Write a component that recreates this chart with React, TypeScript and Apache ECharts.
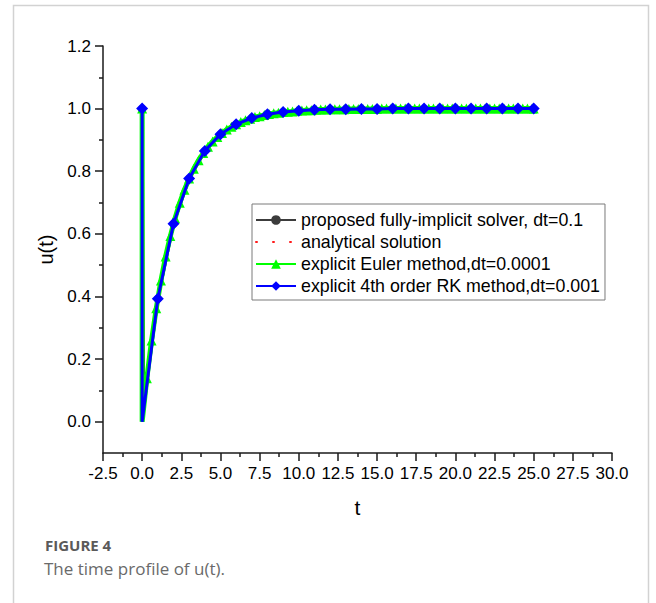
import React, { useEffect, useRef } from "react";
import * as echarts from "echarts";

// ---- Data ----
// proposed fully-implicit solver, dt=0.1
const implicitT = [0, 0.1, 1, 2, 3, 4, 5, 6, 7, 8, 9, 10, 12, 15, 20, 25];
const implicitU = [1, 0.049, 0.393, 0.632, 0.777, 0.865, 0.918, 0.95, 0.97, 0.982, 0.989, 0.993, 0.998, 0.999, 1.0, 1.0];

// analytical solution
const analyticT = [0, 0, 0.5, 1, 1.5, 2, 2.5, 3, 4, 5, 6, 7, 8, 10, 12, 15, 20, 25];
const analyticU = [1, 0, 0.221, 0.393, 0.528, 0.632, 0.713, 0.777, 0.865, 0.918, 0.95, 0.97, 0.982, 0.993, 0.998, 0.999, 1.0, 1.0];

// explicit Euler method, dt=0.0001 (marker positions)
const eulerT = [
  0, 0, 0.3, 0.6, 0.9, 1.2, 1.5, 1.8, 2.1, 2.4, 2.7, 3.0, 3.3, 3.6, 3.9, 4.2, 4.5, 4.8, 5.1, 5.4, 5.7,
  6.0, 6.3, 6.6, 6.9, 7.2, 7.5, 7.8, 8.1, 8.4, 8.7, 9.0, 9.3, 9.6, 9.9, 10.2, 10.5, 10.8, 11.1, 11.4,
  11.7, 12.0, 12.3, 12.6, 12.9, 13.2, 13.5, 13.8, 14.1, 14.4, 14.7, 15.0, 15.3, 15.6, 15.9, 16.2, 16.5,
  16.8, 17.1, 17.4, 17.7, 18.0, 18.3, 18.6, 18.9, 19.2, 19.5, 19.8, 20.1, 20.4, 20.7, 21.0, 21.3, 21.6,
  21.9, 22.2, 22.5, 22.8, 23.1, 23.4, 23.7, 24.0, 24.3, 24.6, 24.9, 25.0,
];
const eulerU = [
  1, 0, 0.139, 0.259, 0.362, 0.451, 0.528, 0.593, 0.65, 0.699, 0.741, 0.777, 0.808, 0.835, 0.858, 0.878,
  0.895, 0.909, 0.922, 0.933, 0.942, 0.95, 0.957, 0.963, 0.968, 0.973, 0.976, 0.98, 0.983, 0.985, 0.987,
  0.989, 0.99, 0.991, 0.993, 0.994, 0.995, 0.995, 0.996, 0.997, 0.997, 0.998, 0.998, 0.998, 0.998, 0.999,
  0.999, 0.999, 0.999, 0.999, 0.999, 0.999, 1.0, 1.0, 1.0, 1.0, 1.0, 1.0, 1.0, 1.0, 1.0, 1.0, 1.0, 1.0,
  1.0, 1.0, 1.0, 1.0, 1.0, 1.0, 1.0, 1.0, 1.0, 1.0, 1.0, 1.0, 1.0, 1.0, 1.0, 1.0, 1.0, 1.0, 1.0, 1.0,
  1.0, 1.0,
];

// explicit 4th order RK method, dt=0.001 (marker positions)
const rkT = [0, 0, 1, 2, 3, 4, 5, 6, 7, 8, 9, 10, 11, 12, 13, 14, 15, 16, 17, 18, 19, 20, 21, 22, 23, 24, 25];
const rkU = [
  1, 0, 0.393, 0.632, 0.777, 0.865, 0.918, 0.95, 0.97, 0.982, 0.989, 0.993, 0.996, 0.998, 0.998, 0.999,
  0.999, 1.0, 1.0, 1.0, 1.0, 1.0, 1.0, 1.0, 1.0, 1.0, 1.0,
];

const seriesNames = [
  "proposed fully-implicit solver, dt=0.1",
  "analytical solution",
  "explicit Euler method,dt=0.0001",
  "explicit 4th order RK method,dt=0.001",
];

const yMajorTicks = [0, 0.2, 0.4, 0.6, 0.8, 1.0, 1.2];
const yMinorTicks = [0.1, 0.3, 0.5, 0.7, 0.9, 1.1];

const FONT = "'Liberation Sans', Arial, sans-serif";
const CAPTION_FONT = "'Open Sans', 'Noto Sans', sans-serif";

function pairs(t: number[], u: number[], hideIdx: number[] = []) {
  return t.map((x, i) =>
    hideIdx.includes(i) ? { value: [x, u[i]], symbol: "none" } : [x, u[i]]
  );
}

export default function App() {
  const ref = useRef<HTMLDivElement>(null);
  useEffect(() => {
    const chart = echarts.init(ref.current!, null, { renderer: "svg" });
    const axisColor = "#1a1a1a";
    chart.setOption({
      animation: false,
      backgroundColor: "#ffffff",
      grid: { left: 103, right: 44, top: 46, bottom: 150, containLabel: false },
      xAxis: {
        type: "value",
        min: -2.5,
        max: 30,
        interval: 2.5,
        name: "t",
        nameLocation: "middle",
        nameGap: 44,
        nameTextStyle: { fontFamily: FONT, fontSize: 21, color: "#000" },
        axisLine: { onZero: false, lineStyle: { color: axisColor, width: 1.5 } },
        axisTick: { show: true, length: 8, lineStyle: { color: axisColor, width: 1.5 } },
        minorTick: { show: true, splitNumber: 2, length: 4, lineStyle: { color: axisColor, width: 1.5 } },
        splitLine: { show: false },
        axisLabel: {
          margin: 12,
          fontFamily: FONT,
          fontSize: 17,
          color: "#000",
          formatter: (v: number) => v.toFixed(1),
        },
      },
      yAxis: [
        {
          type: "value",
          min: -0.1,
          max: 1.2,
          interval: 0.1,
          position: "left",
          axisLine: { onZero: false, lineStyle: { color: axisColor, width: 1.5 } },
          axisTick: { show: true, length: 4, customValues: yMinorTicks, lineStyle: { color: axisColor, width: 1.5 } },
          axisLabel: { show: false },
          splitLine: { show: false },
        },
        {
          type: "value",
          min: -0.1,
          max: 1.2,
          interval: 0.1,
          position: "left",
          name: "u(t)",
          nameLocation: "middle",
          nameGap: 46,
          nameRotate: 90,
          nameTextStyle: { fontFamily: FONT, fontSize: 20, color: "#000" },
          axisLine: { show: false, onZero: false },
          axisTick: { show: true, length: 8, customValues: yMajorTicks, lineStyle: { color: axisColor, width: 1.5 } },
          axisLabel: {
            margin: 12,
            fontFamily: FONT,
            fontSize: 17,
            color: "#000",
            customValues: yMajorTicks,
            formatter: (v: number) => v.toFixed(1),
          },
          splitLine: { show: false },
        },
      ],
      legend: {
        orient: "vertical",
        left: 252,
        top: 204,
        itemWidth: 40,
        itemHeight: 12,
        itemGap: 4,
        padding: [7, 5, 5, 3],
        borderColor: "#7a7a7a",
        borderWidth: 1,
        backgroundColor: "#fff",
        textStyle: { fontFamily: FONT, fontSize: 17.8, color: "#000", lineHeight: 17 },
        data: [
          { name: seriesNames[0] },
          { name: seriesNames[1], itemStyle: { opacity: 0 } },
          { name: seriesNames[2] },
          { name: seriesNames[3] },
        ],
      },
      series: [
        {
          name: seriesNames[0],
          type: "line",
          data: pairs(implicitT, implicitU, [1]),
          color: "#3c3c3c",
          lineStyle: { width: 3, color: "#3c3c3c" },
          symbol: "circle",
          symbolSize: 8,
          showAllSymbol: true,
          z: 2,
        },
        {
          name: seriesNames[1],
          type: "line",
          data: pairs(analyticT, analyticU),
          color: "#ff1a1a",
          lineStyle: { width: 3.5, color: "#ff1a1a", type: [1, 16], cap: "round" },
          symbol: "none",
          z: 3,
        },
        {
          name: seriesNames[2],
          type: "line",
          data: pairs(eulerT, eulerU, [1]),
          color: "#00ff00",
          lineStyle: { width: 5, color: "#00ff00" },
          symbol: "triangle",
          symbolSize: 10,
          showAllSymbol: true,
          z: 4,
        },
        {
          name: seriesNames[3],
          type: "line",
          data: pairs(rkT, rkU, [1]),
          color: "#0000ff",
          lineStyle: { width: 3, color: "#0000ff" },
          symbol: "diamond",
          symbolSize: 12,
          showAllSymbol: true,
          z: 5,
        },
      ],
      graphic: [
        {
          type: "rect",
          shape: { x: 13.5, y: 5.5, width: 635, height: 640 },
          style: { fill: "none", stroke: "#d2d2d2", lineWidth: 1.5 },
          silent: true,
        },
        {
          type: "text",
          left: 45,
          top: 537,
          style: {
            text: "FIGURE 4",
            fontFamily: CAPTION_FONT,
            fontWeight: "bold",
            fontSize: 15,
            lineHeight: 16,
            fill: "#5a5a5a",
          },
        },
        {
          type: "text",
          left: 44,
          top: 559,
          style: {
            text: "The time profile of u(t).",
            fontFamily: CAPTION_FONT,
            fontSize: 17,
            lineHeight: 18,
            fill: "#6a6a6a",
          },
        },
      ],
    });
    return () => chart.dispose();
  }, []);
  return (
    <div
      ref={ref}
      style={{ position: "fixed", left: 0, top: 0, width: 656, height: 603, background: "#fff" }}
    />
  );
}
